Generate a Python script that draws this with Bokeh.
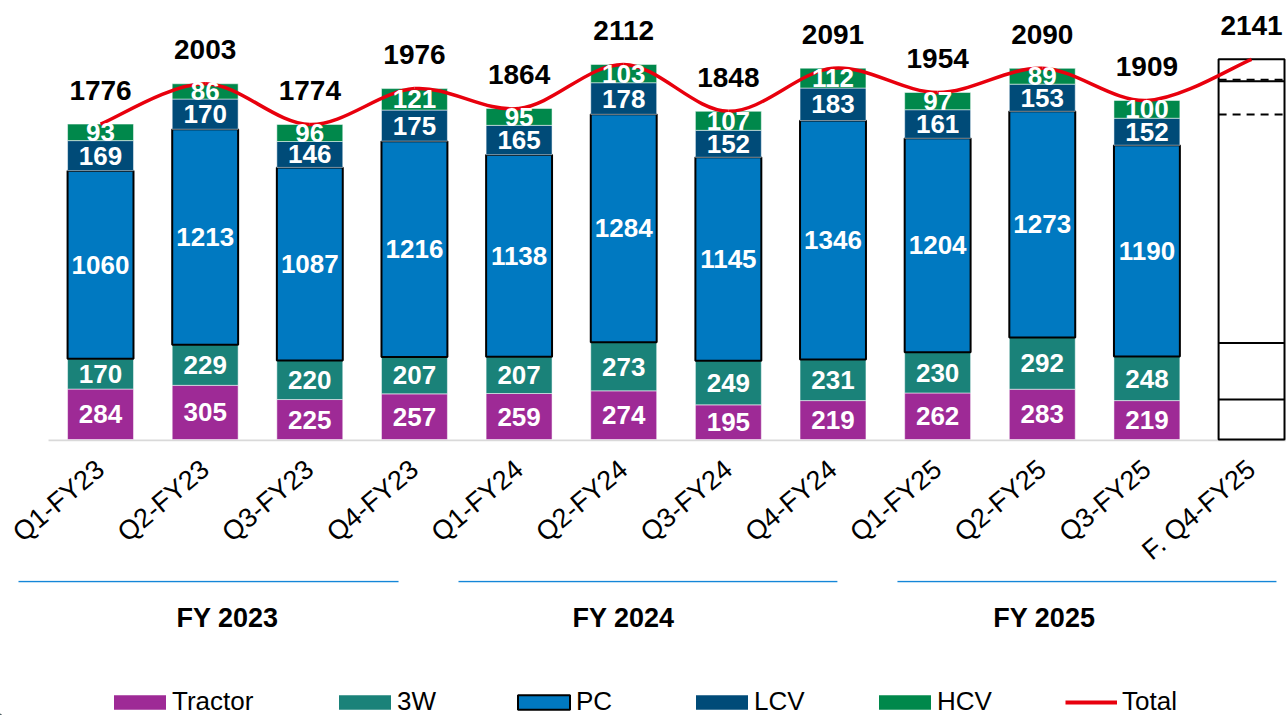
import numpy as np
from bokeh.plotting import figure
from bokeh.models import ColumnDataSource, Range1d, FixedTicker, Legend, LegendItem
from bokeh.layouts import column
from bokeh.embed import file_html
from bokeh.resources import INLINE
from bokeh.core.properties import value

# ---------------- data ----------------
quarters = ["Q1-FY23", "Q2-FY23", "Q3-FY23", "Q4-FY23",
            "Q1-FY24", "Q2-FY24", "Q3-FY24", "Q4-FY24",
            "Q1-FY25", "Q2-FY25", "Q3-FY25"]
forecast_label = "F. Q4-FY25"
tractor = [284, 305, 225, 257, 259, 274, 195, 219, 262, 283, 219]
three_w = [170, 229, 220, 207, 207, 273, 249, 231, 230, 292, 248]
pc = [1060, 1213, 1087, 1216, 1138, 1284, 1145, 1346, 1204, 1273, 1190]
lcv = [169, 170, 146, 175, 165, 178, 152, 183, 161, 153, 152]
hcv = [93, 86, 96, 121, 95, 103, 107, 112, 97, 89, 100]
totals = [1776, 2003, 1774, 1976, 1864, 2112, 1848, 2091, 1954, 2090, 1909, 2141]
forecast_parts = [225, 319, 1286, 188, 123]   # Tractor, 3W, PC, LCV, HCV (unlabelled, estimated)
series_names = ["Tractor", "3W", "PC", "LCV", "HCV"]
fy_groups = ["FY 2023", "FY 2024", "FY 2025"]

# ---------------- style ----------------
FONT = "Liberation Sans"
C_TRACTOR = "#9E2A96"
C_3W = "#1A8279"
C_PC = "#0079C1"
C_LCV = "#004B78"
C_HCV = "#00884B"
C_RED = "#E8000D"
C_GROUP = "#1486D8"
colors = [C_TRACTOR, C_3W, C_PC, C_LCV, C_HCV]
BAR_W = 0.63
X_RANGE = (-0.956, 11.334)

n_all = len(totals)
xs = list(range(len(quarters)))
fx = len(quarters)  # forecast position

p = figure(width=1286, height=580,
           x_range=Range1d(*X_RANGE), y_range=Range1d(-11.26, 2472),
           output_backend="svg", toolbar_location=None, y_axis_location=None,
           min_border_left=0, min_border_right=0, min_border_top=0,
           min_border_bottom=139)
p.outline_line_color = None
p.grid.visible = False
p.background_fill_color = "white"

# baseline (category axis line)
p.segment(x0=[-0.497], x1=[X_RANGE[1]], y0=[-5.63], y1=[-5.63],
          line_color="#D9D9D9", line_width=2)

# stacked bars
keys = ["tractor", "three_w", "pc", "lcv", "hcv"]
src = ColumnDataSource(dict(x=xs, tractor=tractor, three_w=three_w, pc=pc,
                            lcv=lcv, hcv=hcv))
p.vbar_stack(keys, x="x", width=BAR_W, source=src,
             fill_color=colors,
             line_color=["white", "white", "black", "white", "white"],
             line_alpha=[0.5, 0.5, 1.0, 0.5, 0.5],
             line_width=[1, 1, 2, 1, 1])

# forecast bar (white, outlined)
fc_top = np.cumsum(forecast_parts)
fc_bot = np.r_[0, fc_top[:-1]]
p.vbar(x=[fx] * len(forecast_parts), bottom=fc_bot, top=fc_top, width=BAR_W,
       fill_color="white", line_color=None)
p.vbar(x=[fx], bottom=[0], top=[fc_top[-1]], width=BAR_W,
       fill_color=None, line_color="black", line_width=2)
solid_idx = [0, 1, 3]
p.segment(x0=[fx - BAR_W / 2] * 3, x1=[fx + BAR_W / 2] * 3,
          y0=[fc_top[i] for i in solid_idx], y1=[fc_top[i] for i in solid_idx],
          line_color="black", line_width=2)
p.segment(x0=[fx - BAR_W / 2] * 2, x1=[fx + BAR_W / 2] * 2,
          y0=[fc_top[2], fc_top[3] + 8], y1=[fc_top[2], fc_top[3] + 8],
          line_color="black", line_width=2, line_dash="8 6")

# smooth total line (cubic bezier through the totals)
tx = np.arange(n_all, dtype=float)
ty = np.array(totals, dtype=float)
t = 1.0 / 6.0
x0, y0, x1, y1, cx0, cy0, cx1, cy1 = [], [], [], [], [], [], [], []
for i in range(n_all - 1):
    im1 = max(i - 1, 0)
    ip2 = min(i + 2, n_all - 1)
    x0.append(tx[i]); y0.append(ty[i])
    x1.append(tx[i + 1]); y1.append(ty[i + 1])
    cx0.append(tx[i] + (tx[i + 1] - tx[im1]) * t)
    cy0.append(ty[i] + (ty[i + 1] - ty[im1]) * t)
    cx1.append(tx[i + 1] - (tx[ip2] - tx[i]) * t)
    cy1.append(ty[i + 1] - (ty[ip2] - ty[i]) * t)
p.bezier(x0=x0, y0=y0, x1=x1, y1=y1, cx0=cx0, cy0=cy0, cx1=cx1, cy1=cy1,
         line_color=C_RED, line_width=3.5)

# segment labels
lx, ly, lt = [], [], []
bottom = np.zeros(len(xs))
for vals in [tractor, three_w, pc, lcv, hcv]:
    v = np.array(vals, dtype=float)
    for i in range(len(xs)):
        lx.append(xs[i]); ly.append(bottom[i] + v[i] / 2); lt.append(str(vals[i]))
    bottom = bottom + v
p.text(x=lx, y=ly, text=lt, text_color="white", text_font=value(FONT),
       text_font_style="bold", text_font_size="26px",
       text_align="center", text_baseline="middle")

# total labels
p.text(x=list(range(n_all)), y=totals, text=[str(v) for v in totals],
       y_offset=-34, text_color="black", text_font=value(FONT),
       text_font_style="bold", text_font_size="28px",
       text_align="center", text_baseline="middle")

# x axis
ax = p.xaxis[0]
ax.ticker = FixedTicker(ticks=list(range(n_all)))
ax.major_label_overrides = {i: lab for i, lab in enumerate(quarters + [forecast_label])}
ax.major_label_orientation = 0.70
ax.major_label_text_font = FONT
ax.major_label_text_font_size = "27px"
ax.major_label_text_color = "black"
ax.major_label_standoff = 24
ax.major_tick_line_color = None
ax.major_tick_out = 0
ax.major_tick_in = 0
ax.minor_tick_line_color = None
ax.minor_tick_out = 0
ax.axis_line_color = None

# ---------------- lower panel: fiscal-year groups + legend ----------------
p2 = figure(width=1286, height=135,
            x_range=Range1d(*X_RANGE), y_range=Range1d(0, 135),
            output_backend="svg", toolbar_location=None,
            x_axis_location=None, y_axis_location=None, min_border=0)
p2.outline_line_color = None
p2.grid.visible = False

grp_x0 = [-0.784, 3.421, 7.616]
grp_x1 = [2.848, 7.042, 11.238]
grp_lab_x = [1.214, 4.998, 9.02]
p2.segment(x0=grp_x0, x1=grp_x1, y0=[134] * 3, y1=[134] * 3,
           line_color=C_GROUP, line_width=1.6)
p2.text(x=grp_lab_x, y=[98] * 3, text=fy_groups, text_color="black",
        text_font=value(FONT), text_font_style="bold", text_font_size="27px",
        text_align="center", text_baseline="middle")

# legend proxies (placed outside the visible range), one legend per entry
legend_x = [107, 332, 511, 689, 872, 1065]
for k, (name, col) in enumerate(zip(series_names, colors)):
    r = p2.vbar(x=[-20], bottom=[0], top=[1], width=0.5, fill_color=col,
                line_color="black" if name == "PC" else None,
                line_width=2 if name == "PC" else 1)
    lg = Legend(items=[LegendItem(label=name, renderers=[r])],
                orientation="horizontal", location=(legend_x[k], -2),
                glyph_width=65, glyph_height=18, label_standoff=0,
                padding=0, margin=0, border_line_color=None,
                background_fill_alpha=0, label_text_font=FONT,
                label_text_font_size="26px", label_text_color="black")
    p2.add_layout(lg)
rl = p2.line(x=[-21, -20], y=[0, 0], line_color=C_RED, line_width=4)
lg = Legend(items=[LegendItem(label="Total", renderers=[rl])],
            orientation="horizontal", location=(legend_x[5], -2),
            glyph_width=52, glyph_height=18, label_standoff=5,
            padding=0, margin=0, border_line_color=None,
            background_fill_alpha=0, label_text_font=FONT,
            label_text_font_size="26px", label_text_color="black")
p2.add_layout(lg)

layout = column(p, p2, spacing=0)
open("out.html", "w").write(file_html(layout, INLINE))
